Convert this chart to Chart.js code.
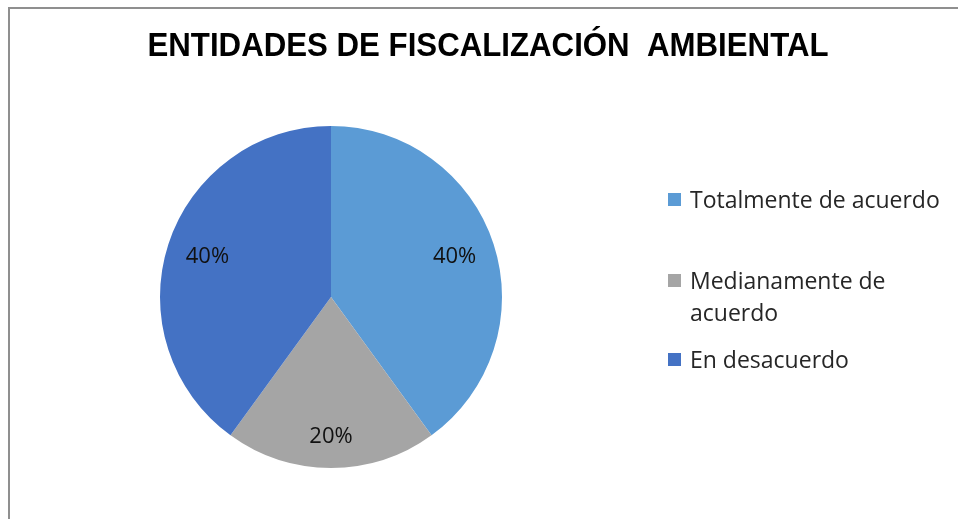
<!DOCTYPE html>
<html>
<head>
<meta charset="utf-8">
<script src="https://cdn.jsdelivr.net/npm/chart.js@4.4.1/dist/chart.umd.min.js"></script>
<style>
    html, body { margin: 0; padding: 0; background: #fff; }
    #wrap { position: relative; width: 958px; height: 519px; overflow: hidden; }
    #frame { position: absolute; left: 8px; top: 7px; width: 1200px; height: 800px;
             border-left: 2px solid #8f8f8f; border-top: 2px solid #8f8f8f; }
    #canvas-pie { position: absolute; left: 0; top: 0; }
    #legend { position: absolute; left: 668px; top: 0; width: 285px;
              font-family: "Open Sans", sans-serif; font-size: 23px; color: #262626; }
    .item { position: absolute; left: 0; display: flex; align-items: flex-start; }
    .item .box { width: 13px; height: 13px; margin-top: 10px; margin-right: 9px; flex: none; }
    .item .txt { line-height: 32px; width: 262px; }
</style>
</head>
<body>
<div id="wrap">
    <div id="frame"></div>
    <canvas id="canvas-pie" width="958" height="519"></canvas>
    <div id="legend"></div>
</div>
<script>
const title = 'ENTIDADES DE FISCALIZACIÓN  AMBIENTAL';
const categories = ['Totalmente de acuerdo', 'Medianamente de acuerdo', 'En desacuerdo'];
const percentages = [40, 20, 40];
const colors = ['#5b9bd5', '#a5a5a5', '#4472c4'];

// legend rows, top of the first text line of each entry
const legendTops = [183, 264, 343];

function buildLegend() {
    const legend = document.getElementById('legend');
    categories.forEach((name, i) => {
        const item = document.createElement('div');
        item.className = 'item';
        item.style.top = legendTops[i] + 'px';
        item.innerHTML = '<span class="box" style="background:' + colors[i] + '"></span>' +
            '<span class="txt">' + name + '</span>';
        legend.appendChild(item);
    });
}

// the original title is a tall, narrow bold face: squeeze it to the same width
const titlePlugin = {
    id: 'titleText',
    afterDraw(chart) {
        const ctx = chart.ctx;
        ctx.save();
        ctx.font = 'bold 34px "Liberation Sans", Arial, sans-serif';
        const w = ctx.measureText(title).width;
        const sx = 681 / w;
        ctx.translate(488, 47);
        ctx.scale(sx, 1);
        ctx.fillStyle = '#000';
        ctx.textAlign = 'center';
        ctx.textBaseline = 'middle';
        ctx.fillText(title, 0, 0);
        ctx.restore();
    }
};

const sliceLabels = {
    id: 'sliceLabels',
    afterDatasetsDraw(chart) {
        const ctx = chart.ctx;
        const meta = chart.getDatasetMeta(0);
        ctx.save();
        ctx.font = '22px "Open Sans", sans-serif';
        ctx.fillStyle = '#111';
        ctx.textAlign = 'center';
        ctx.textBaseline = 'middle';
        meta.data.forEach((arc, i) => {
            const p = arc.getProps(['x', 'y', 'startAngle', 'endAngle', 'outerRadius'], true);
            const mid = (p.startAngle + p.endAngle) / 2;
            const r = p.outerRadius * (percentages[i] < 30 ? 0.82 : 0.76);
            ctx.fillText(percentages[i] + '%', p.x + Math.cos(mid) * r, p.y + Math.sin(mid) * r);
        });
        ctx.restore();
    }
};

new Chart(document.getElementById('canvas-pie'), {
    type: 'pie',
    data: {
        labels: categories,
        datasets: [{
            data: percentages,
            backgroundColor: colors,
            borderWidth: 0
        }]
    },
    options: {
        responsive: false,
        animation: false,
        devicePixelRatio: 1,
        layout: { padding: { left: 160, right: 456, top: 126, bottom: 51 } },
        plugins: {
            legend: { display: false },
            title: { display: false },
            tooltip: { enabled: false }
        }
    },
    plugins: [sliceLabels, titlePlugin]
});

buildLegend();
</script>
</body>
</html>
